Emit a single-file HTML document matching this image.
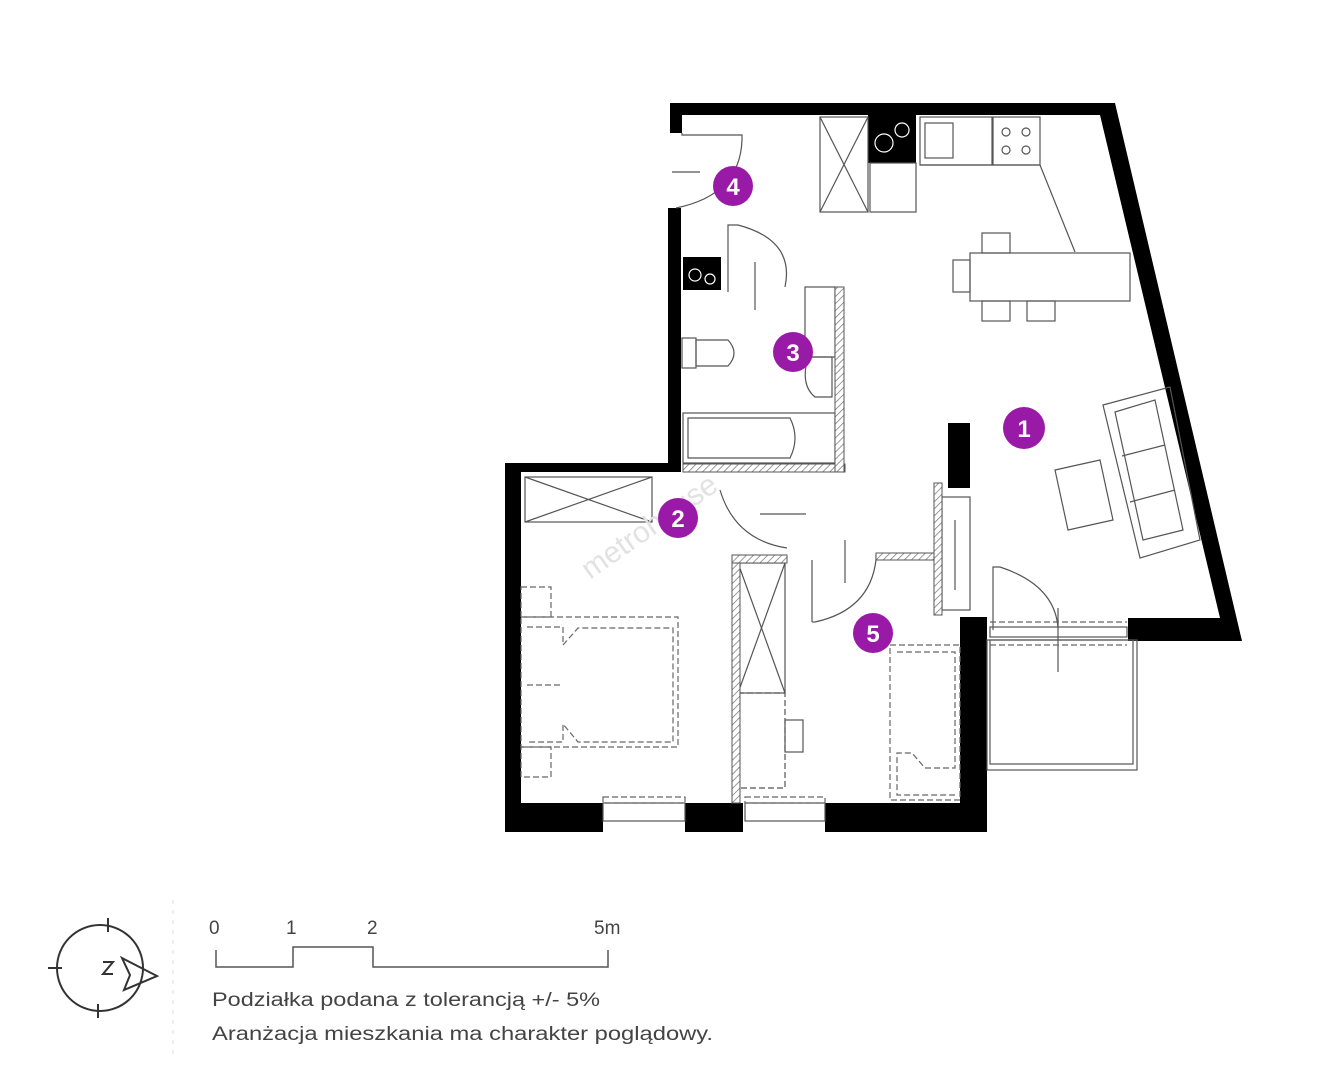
<!DOCTYPE html>
<html><head><meta charset="utf-8"><style>
html,body{margin:0;padding:0;background:#fff;}
svg{display:block;}
</style></head><body>
<svg width="1324" height="1080" viewBox="0 0 1324 1080" xmlns="http://www.w3.org/2000/svg">
<defs>
<pattern id="h" width="5" height="5" patternUnits="userSpaceOnUse" patternTransform="rotate(45)">
<rect width="5" height="5" fill="#fff"/><line x1="0" y1="0" x2="0" y2="5" stroke="#777" stroke-width="1.5"/>
</pattern>
</defs>
<rect width="1324" height="1080" fill="#fff"/>
<g fill="#000">
<polygon points="670,103 1115,103 1242,641 1128,641 1128,618 1220,618 1100,115 682,115 682,133 670,133"/>
<rect x="668" y="208" width="13" height="263"/>
<rect x="505" y="463" width="176" height="9"/>
<rect x="505" y="463" width="16" height="369"/>
<rect x="505" y="803" width="98" height="29"/>
<rect x="685" y="803" width="58" height="29"/>
<rect x="825" y="803" width="162" height="29"/>
<rect x="960" y="617" width="27" height="215"/>
<rect x="948" y="423" width="22" height="65"/>
<rect x="868" y="115" width="48" height="48"/>
<rect x="683" y="257" width="38" height="33"/>
</g>
<g fill="none" stroke="#555" stroke-width="1.2">
<rect x="820" y="117" width="48" height="95"/>
<line x1="820" y1="117" x2="868" y2="212"/><line x1="868" y1="117" x2="820" y2="212"/>
<rect x="870" y="163" width="46" height="49"/>
<circle cx="884" cy="143" r="9" stroke="#fff"/><circle cx="902" cy="130" r="7" stroke="#fff"/>
<circle cx="695" cy="275" r="6" stroke="#fff"/><circle cx="710" cy="279" r="5" stroke="#fff"/>
<rect x="920" y="117" width="72" height="48"/>
<rect x="925" y="123" width="28" height="35"/>
<rect x="993" y="117" width="47" height="48"/>
<circle cx="1006" cy="132" r="4"/><circle cx="1026" cy="132" r="4"/><circle cx="1006" cy="150" r="4"/><circle cx="1026" cy="150" r="4"/>
<polyline points="920,165 1005,165 1005,165 1040,165 1075,252"/>
<rect x="970" y="253" width="160" height="48"/>
<rect x="953" y="260" width="17" height="32"/>
<rect x="982" y="233" width="28" height="20"/>
<rect x="982" y="301" width="28" height="20"/>
<rect x="1027" y="301" width="28" height="20"/>
<polygon points="1103,405 1170,387 1200,540 1140,558"/>
<polygon points="1115,412 1155,400 1183,530 1143,540"/>
<line x1="1122" y1="456" x2="1165" y2="445"/>
<line x1="1130" y1="502" x2="1175" y2="490"/>
<polygon points="1055,470 1100,460 1113,520 1068,530"/>
<polyline points="682,133 682,135 742,135 742,140"/>
<path d="M742,140 Q740,195 676,208"/>
<line x1="672" y1="172" x2="700" y2="172"/>
<polyline points="728,292 728,225 738,225"/>
<path d="M738,225 Q795,240 785,287"/>
<line x1="755" y1="262" x2="755" y2="310"/>
<rect x="682" y="338" width="14" height="30"/>
<path d="M696,340 L728,340 Q740,353 728,366 L696,366 Z"/>
<rect x="683" y="413" width="152" height="50"/>
<path d="M688,418 L790,418 Q800,438 790,458 L688,458 Z"/>
<path d="M808,357 L832,357 L832,397 L815,397 Q800,385 808,357 Z"/>
<rect x="805" y="287" width="30" height="70"/>
<rect x="525" y="477" width="127" height="45"/>
<line x1="525" y1="477" x2="652" y2="522"/><line x1="652" y1="477" x2="525" y2="522"/>
<path d="M720,490 Q735,540 787,548"/>
<line x1="760" y1="514" x2="806" y2="514"/>
<line x1="845" y1="540" x2="845" y2="583"/>
<path d="M876,560 Q870,610 815,622"/>
<polyline points="876,560 876,555 932,555"/>
<line x1="812" y1="560" x2="812" y2="622"/><line x1="812" y1="622" x2="815" y2="622"/>
<rect x="738" y="563" width="47" height="130"/>
<line x1="738" y1="563" x2="785" y2="693"/><line x1="785" y1="563" x2="738" y2="693"/>
<rect x="738" y="693" width="47" height="95" stroke-dasharray="6,3"/>
<rect x="785" y="720" width="18" height="32"/>
<polyline points="993,630 993,567 1000,567"/>
<path d="M1000,567 Q1055,585 1058,628"/>
<line x1="1058" y1="608" x2="1058" y2="672"/>
<rect x="990" y="627" width="137" height="10"/>
<rect x="987" y="640" width="150" height="130"/>
<rect x="990" y="640" width="143" height="124"/>
<rect x="942" y="497" width="28" height="113"/>
<line x1="955" y1="520" x2="955" y2="590"/>
<rect x="603" y="803" width="82" height="18"/>
<rect x="745" y="803" width="80" height="18"/>
</g>
<g fill="url(#h)" stroke="#555" stroke-width="1">
<rect x="683" y="464" width="162" height="8"/>
<rect x="835" y="287" width="9" height="185"/>
<rect x="732" y="555" width="8" height="248"/>
<rect x="732" y="555" width="55" height="8"/>
<rect x="876" y="553" width="60" height="7"/>
<rect x="934" y="483" width="8" height="132"/>
</g>
<g fill="none" stroke="#666" stroke-width="1.2" stroke-dasharray="6,3">
<rect x="521" y="587" width="30" height="30"/>
<rect x="521" y="747" width="30" height="30"/>
<rect x="521" y="617" width="157" height="130"/>
<polyline points="527,627 563,627 563,645 578,628 673,628 673,742 578,742 563,724 563,742 527,742 Z"/>
<line x1="527" y1="685" x2="563" y2="685"/>
<rect x="890" y="645" width="70" height="155"/>
<polyline points="897,652 955,652 955,768 925,768 912,753 897,753 897,795 955,795"/>
<rect x="603" y="797" width="82" height="6"/>
<rect x="745" y="797" width="80" height="6"/>
<line x1="990" y1="622" x2="1127" y2="622"/>
<line x1="990" y1="645" x2="1127" y2="645"/>
</g>
<text x="590" y="580" transform="rotate(-35 590 580)" font-family="Liberation Sans, sans-serif" font-size="30" fill="#e2e2e2">metrohouse</text>
<g font-family="Liberation Sans, sans-serif" font-size="24" font-weight="bold" fill="#fff" text-anchor="middle">
<circle cx="733" cy="186" r="20" fill="#9a1aa8"/><text x="733" y="195">4</text>
<circle cx="793" cy="352" r="20" fill="#9a1aa8"/><text x="793" y="361">3</text>
<circle cx="1024" cy="428" r="21" fill="#9a1aa8"/><text x="1024" y="437">1</text>
<circle cx="678" cy="518" r="20" fill="#9a1aa8"/><text x="678" y="527">2</text>
<circle cx="873" cy="633" r="20" fill="#9a1aa8"/><text x="873" y="642">5</text>
</g>
<g fill="none" stroke="#333" stroke-width="2">
<circle cx="100" cy="968" r="43"/>
<line x1="108" y1="918" x2="108" y2="932"/><line x1="48" y1="968" x2="62" y2="968"/>
<line x1="98" y1="1004" x2="98" y2="1018"/>
<polygon points="122,958 157,976 124,990 130,975"/>
<polyline points="103,962 113,962 103,974 113,974"/>
</g>
<line x1="173" y1="900" x2="173" y2="1060" stroke="#ddd" stroke-width="1" stroke-dasharray="4,6"/>
<polyline points="216,950 216,967 293,967 293,947 373,947 373,967 608,967 608,950" fill="none" stroke="#555" stroke-width="1.5"/>
<g font-family="Liberation Sans, sans-serif" font-size="19" fill="#444">
<text x="209" y="934">0</text><text x="286" y="934">1</text><text x="367" y="934">2</text><text x="594" y="934">5m</text>
<text x="212" y="1006" textLength="388" lengthAdjust="spacingAndGlyphs">Podziałka podana z tolerancją +/- 5%</text>
<text x="212" y="1040" textLength="501" lengthAdjust="spacingAndGlyphs">Aranżacja mieszkania ma charakter poglądowy.</text>
</g>
</svg>
</body></html>
